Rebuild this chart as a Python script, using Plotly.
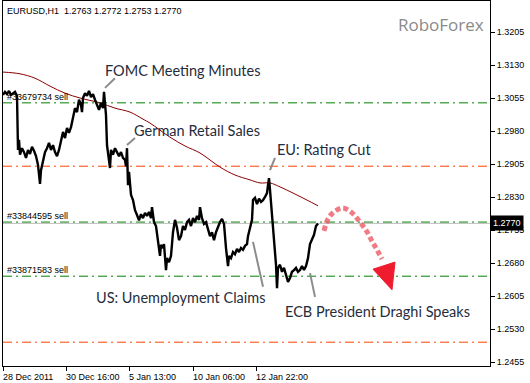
import plotly.graph_objects as go

# ---- data (bar index, price) ----
bars = [0,2,4,6,8,10,12,14,15,16,17,19,21,23,25,27,29,31,33,35,37,38,40,42,44,46,48,50,52,54,56,58,60,62,64,66,68,70,72,74,76,78,79,80,82,84,86,88,90,92,94,96,98,100,101,102,103,104,105,107,108,110,112,114,116,118,120,122,123,124,125,126,128,130,132,134,136,138,140,142,144,146,148,149,151,153,155,156,157,158,160,161,163,164,166,168,170,172,174,176,178,180,182,184,186,188,190,192,194,196,197,199,201,203,205,207,209,211,213,215,217,219,221,223,225,226,228,230,232,234,236,238,240,242,244,245,247,249,250,252,254,256,258,260,262,264,265,266,267,269,271,273,274,275,277,279,281,283,285,287,289,291,293,295,297,299,301,303,305,307,309,311,313,315]
prices = [1.3062,1.3069,1.3064,1.3071,1.3062,1.3066,1.3069,1.3060,1.2937,1.2960,1.2926,1.2941,1.2932,1.2919,1.2937,1.2928,1.2944,1.2935,1.2923,1.2903,1.2860,1.2891,1.2914,1.2932,1.2941,1.2953,1.2937,1.2948,1.2932,1.2923,1.2937,1.2960,1.2978,1.2964,1.2987,1.2976,1.2989,1.3010,1.3032,1.3023,1.3051,1.3039,1.3023,1.3055,1.3066,1.3060,1.3071,1.3057,1.3064,1.3051,1.3039,1.3028,1.3044,1.3032,1.3069,1.3046,1.3016,1.2948,1.2926,1.2896,1.2937,1.2926,1.2941,1.2932,1.2923,1.2932,1.2919,1.2914,1.2900,1.2941,1.2857,1.2887,1.2835,1.2823,1.2800,1.2789,1.2777,1.2791,1.2782,1.2794,1.2787,1.2796,1.2782,1.2807,1.2773,1.2764,1.2732,1.2705,1.2696,1.2721,1.2714,1.2723,1.2664,1.2691,1.2682,1.2696,1.2750,1.2778,1.2760,1.2732,1.2741,1.2764,1.2755,1.2773,1.2778,1.2764,1.2782,1.2773,1.2787,1.2778,1.2807,1.2782,1.2769,1.2773,1.2755,1.2741,1.2750,1.2732,1.2750,1.2764,1.2773,1.2780,1.2769,1.2714,1.2673,1.2696,1.2691,1.2705,1.2700,1.2712,1.2705,1.2714,1.2710,1.2719,1.2723,1.2741,1.2760,1.2778,1.2823,1.2828,1.2814,1.2826,1.2819,1.2823,1.2830,1.2839,1.2857,1.2873,1.2846,1.2789,1.2732,1.2676,1.2623,1.2669,1.2676,1.2660,1.2669,1.2651,1.2637,1.2646,1.2660,1.2664,1.2669,1.2660,1.2664,1.2673,1.2664,1.2673,1.2691,1.2723,1.2732,1.2744,1.2764,1.2770]

ma_bars = [0,17,32,47,62,77,97,112,127,140,147,167,182,197,217,232,247,257,267,277,290,304,315]
ma_values = [1.3114,1.3110,1.3100,1.3082,1.3066,1.3055,1.3044,1.3032,1.3023,1.3007,1.2998,1.2966,1.2946,1.2930,1.2898,1.2880,1.2869,1.2862,1.2862,1.2853,1.2839,1.2823,1.2810]

order_levels = [1.3044, 1.2773, 1.2650]
order_labels = ["#33679734 sell", "#33844595 sell", "#33871583 sell"]
sr_levels = [1.2900, 1.2500]
bid = 1.2770

y_ticks = [1.2455,1.2530,1.2605,1.2680,1.2755,1.2830,1.2905,1.2980,1.3055,1.3130,1.3205]
x_tick_bars = [0, 63, 126, 190, 253]
x_tick_labels = ["28 Dec 2011", "30 Dec 16:00", "5 Jan 13:00", "10 Jan 06:00", "12 Jan 22:00"]

events = ["FOMC Meeting Minutes", "German Retail Sales", "EU: Rating Cut",
          "US: Unemployment Claims", "ECB President Draghi Speaks"]
event_text_pos = [(100, 1.31186), (129, 1.29823), (272, 1.29391), (91, 1.26027), (280, 1.25709)]
event_leaders = [((102, 1.3078), (112, 1.3100)), ((124, 1.2948), (132, 1.2964)),
                 ((267, 1.2891), (272, 1.2919)), ((250, 1.2728), (260, 1.2626)),
                 ((307, 1.2657), (312, 1.2603))]

fc_bars = [321, 325, 331, 340, 349, 357, 364, 369, 374, 379]
fc_prices = [1.2753, 1.2780, 1.2796, 1.2805, 1.2794, 1.2773, 1.2751, 1.2730, 1.2710, 1.2689]
arrow_head = [(370, 1.2666), (392, 1.2682), (389, 1.2619)]

Y0, Y1 = 1.24459, 1.32755
X0, X1 = 0, 487

fig = go.Figure()

# horizontal levels
for lv in order_levels:
    fig.add_shape(type="line", xref="paper", x0=0, x1=1, y0=lv, y1=lv,
                  line=dict(color="#008000", width=1, dash="9px,4px,2px,4px"), layer="below")
for lv in sr_levels:
    fig.add_shape(type="line", xref="paper", x0=0, x1=1, y0=lv, y1=lv,
                  line=dict(color="#ff4500", width=1, dash="9px,4px,2px,4px"), layer="below")
fig.add_shape(type="line", xref="paper", x0=0, x1=1, y0=bid, y1=bid,
              line=dict(color="#c0c0c0", width=1), layer="below")

fig.add_trace(go.Scatter(x=ma_bars, y=ma_values, mode="lines", line=dict(color="#8b0000", width=1, shape="spline"),
                         hoverinfo="skip"))
fig.add_trace(go.Scatter(x=bars, y=prices, mode="lines", line=dict(color="black", width=2.4),
                         hoverinfo="skip"))
fig.add_trace(go.Scatter(x=fc_bars, y=fc_prices, mode="lines",
                         line=dict(color="rgba(236,90,100,0.8)", width=5, dash="5px,3px", shape="spline"),
                         hoverinfo="skip"))
ah = arrow_head
fig.add_shape(type="path",
              path=f"M {ah[0][0]},{ah[0][1]} L {ah[1][0]},{ah[1][1]} L {ah[2][0]},{ah[2][1]} Z",
              fillcolor="#ee1c2e", line=dict(color="#ee1c2e", width=1))

for (a, b) in event_leaders:
    fig.add_shape(type="line", x0=a[0], y0=a[1], x1=b[0], y1=b[1],
                  line=dict(color="#8c8c8c", width=2))

annotations = []
for txt, (bx, py) in zip(events, event_text_pos):
    annotations.append(dict(x=bx, y=py, xref="x", yref="y", text=txt, showarrow=False,
                            xanchor="left", yanchor="middle",
                            font=dict(family="Lato", size=14.5, color="#1f2d3d")))
for lv, lab in zip(order_levels, order_labels):
    annotations.append(dict(x=0, y=lv, xref="paper", yref="y", text=lab, showarrow=False,
                            xanchor="left", yanchor="bottom", xshift=2, yshift=-1,
                            font=dict(family="Liberation Sans", size=9, color="#000000")))
for bx, lab in zip(x_tick_bars, x_tick_labels):
    annotations.append(dict(x=bx, y=0, xref="x", yref="paper", text=lab, showarrow=False,
                            xanchor="left", yanchor="top", yshift=-4, xshift=-2,
                            font=dict(family="Liberation Sans", size=9, color="#000000")))
annotations.append(dict(x=0, y=1, xref="paper", yref="paper",
                        text="EURUSD,H1  1.2763 1.2772 1.2753 1.2770", showarrow=False,
                        xanchor="left", yanchor="top", xshift=2, yshift=-3,
                        font=dict(family="Liberation Sans", size=9, color="#000000")))
annotations.append(dict(x=1, y=1, xref="paper", yref="paper", text="RoboForex", showarrow=False,
                        xanchor="right", yanchor="top", xshift=-4, yshift=-10,
                        font=dict(family="Open Sans", size=17, color="#8a8a8a")))
annotations.append(dict(x=1, y=bid, xref="paper", yref="y", text="1.2770", showarrow=False,
                        xanchor="left", yanchor="middle", xshift=0,
                        bgcolor="#000000", borderpad=2,
                        font=dict(family="Liberation Sans", size=9, color="#ffffff")))

fig.update_layout(
    width=530, height=383,
    margin=dict(l=3, r=40, t=1, b=17, autoexpand=False),
    paper_bgcolor="white", plot_bgcolor="white",
    showlegend=False,
    annotations=annotations,
    xaxis=dict(range=[X0, X1], showgrid=False, zeroline=False, showline=True, mirror=True,
               linecolor="black", linewidth=1, ticks="outside", ticklen=4, tickcolor="black",
               tickvals=x_tick_bars, showticklabels=False),
    yaxis=dict(range=[Y0, Y1], side="right", showgrid=False, zeroline=False, showline=True,
               mirror=True, linecolor="black", linewidth=1, ticks="outside", ticklen=4,
               tickcolor="black", tickmode="array", tickvals=y_ticks,
               ticktext=[f"{v:.4f}" for v in y_ticks],
               tickfont=dict(family="Liberation Sans", size=9, color="black")),
)

fig.write_html("out.html", config={"displayModeBar": False},
               post_script="document.body.style.margin='0';document.body.style.overflow='hidden';")
